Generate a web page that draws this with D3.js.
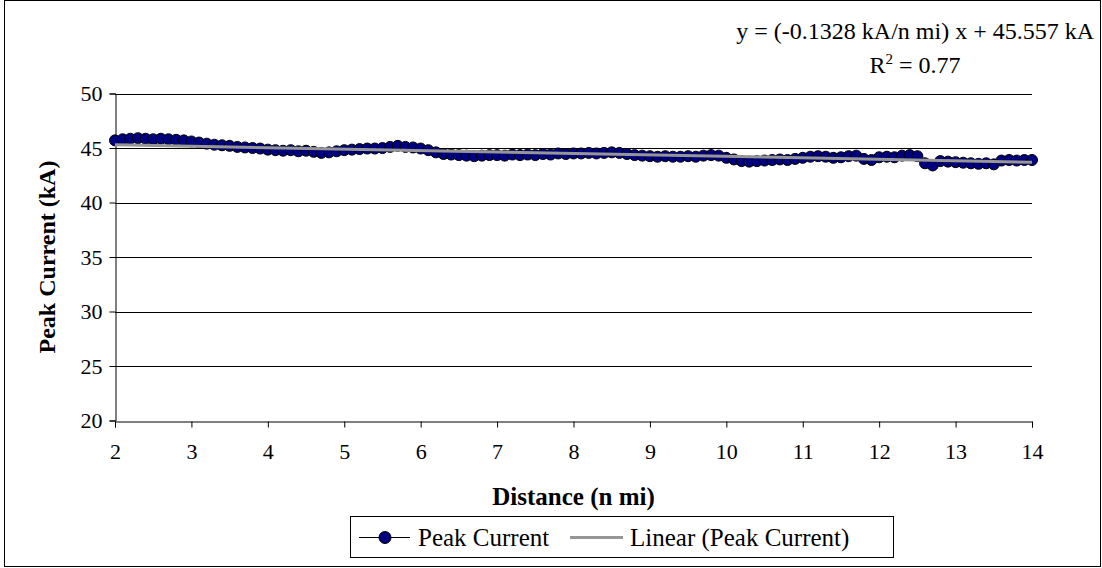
<!DOCTYPE html>
<html>
<head>
<meta charset="utf-8">
<script src="https://cdn.jsdelivr.net/npm/d3@7"></script>
<style>
  html, body { margin: 0; padding: 0; background: #fff; }
  svg { display: block; font-family: "Liberation Serif", "Times New Roman", serif; }
</style>
</head>
<body>
<svg id="chart" width="1102" height="568"></svg>
<script>
// Peak current readings, one every 0.1 n mi from 2 to 14 n mi
const distStart = 2.0;
const distStep = 0.1;
const peakCurrent = [
  45.70, 45.80, 45.85, 45.90, 45.85, 45.80, 45.85, 45.80, 45.75, 45.70,
  45.60, 45.50, 45.40, 45.30, 45.25, 45.20, 45.10, 45.05, 45.00, 44.95,
  44.85, 44.80, 44.75, 44.80, 44.70, 44.75, 44.65, 44.55, 44.60, 44.70,
  44.80, 44.85, 44.90, 44.95, 44.95, 45.00, 45.10, 45.20, 45.10, 45.05,
  44.95, 44.80, 44.60, 44.45, 44.40, 44.35, 44.30, 44.25, 44.30, 44.35,
  44.35, 44.30, 44.40, 44.35, 44.40, 44.35, 44.45, 44.40, 44.50, 44.45,
  44.50, 44.50, 44.55, 44.50, 44.55, 44.60, 44.55, 44.45, 44.35, 44.30,
  44.25, 44.20, 44.25, 44.20, 44.20, 44.25, 44.20, 44.30, 44.35, 44.30,
  44.10, 43.95, 43.80, 43.75, 43.80, 43.85, 43.90, 43.95, 43.90, 44.00,
  44.10, 44.20, 44.25, 44.20, 44.10, 44.15, 44.25, 44.30, 44.00, 43.90,
  44.15, 44.20, 44.15, 44.30, 44.35, 44.25, 43.60, 43.40, 43.80, 43.75,
  43.70, 43.65, 43.60, 43.55, 43.60, 43.50, 43.85, 43.90, 43.85, 43.90,
  43.90
];
const distance = peakCurrent.map((_, i) => +(distStart + i * distStep).toFixed(1));

// Linear fit, as given in the equation label
const fitSlope = -0.1328;
const fitIntercept = 45.557;
const fitR2 = 0.77;

const xTicks = [2, 3, 4, 5, 6, 7, 8, 9, 10, 11, 12, 13, 14];
const yTicks = [20, 25, 30, 35, 40, 45, 50];

const seriesName = "Peak Current";
const fitName = "Linear (Peak Current)";

const svg = d3.select("#chart");
const plot = { left: 115, right: 1032, top: 93.5, bottom: 420.5 };
const serif = '"Liberation Serif", "Times New Roman", serif';

// Outer chart frame
svg.append("rect")
  .attr("x", 4.5).attr("y", 0.5)
  .attr("width", 1096).attr("height", 566)
  .attr("fill", "#fff").attr("stroke", "#000").attr("stroke-width", 1);

const x = d3.scaleLinear().domain([2, 14]).range([plot.left, plot.right]);
const y = d3.scaleLinear().domain([20, 50]).range([plot.bottom, plot.top]);

// Horizontal gridlines
svg.append("g")
  .selectAll("line")
  .data(yTicks.filter(t => t > 20))
  .join("line")
  .attr("x1", plot.left).attr("x2", plot.right)
  .attr("y1", d => Math.round(y(d)) + 0.5).attr("y2", d => Math.round(y(d)) + 0.5)
  .attr("stroke", "#000").attr("stroke-width", 1);

// Axes
const yAxis = d3.axisLeft(y).tickValues(yTicks).tickSize(6).tickPadding(7).tickFormat(d3.format("d"));
const xAxis = d3.axisBottom(x).tickValues(xTicks).tickSize(6).tickPadding(16).tickFormat(d3.format("d"));

const gy = svg.append("g")
  .attr("transform", `translate(${Math.round(plot.left) + 0.5},0)`)
  .call(yAxis);
const gx = svg.append("g")
  .attr("transform", `translate(0,${Math.round(plot.bottom) + 0.5})`)
  .call(xAxis);

[gx, gy].forEach(g => {
  g.attr("font-family", serif).attr("font-size", 22);
  g.select(".domain").attr("stroke", "#000");
  g.selectAll(".tick line").attr("stroke", "#000");
  g.selectAll(".tick text").attr("fill", "#000");
});

// Series line and markers
const pts = distance.map((d, i) => ({ x: d, v: peakCurrent[i] }));
svg.append("path")
  .datum(pts)
  .attr("fill", "none")
  .attr("stroke", "#000")
  .attr("stroke-width", 1)
  .attr("d", d3.line().x(d => x(d.x)).y(d => y(d.v)));

svg.append("g")
  .selectAll("circle")
  .data(pts)
  .join("circle")
  .attr("cx", d => x(d.x))
  .attr("cy", d => y(d.v))
  .attr("r", 5.5)
  .attr("fill", "#000080")
  .attr("stroke", "#000")
  .attr("stroke-width", 1);

// Trend line
svg.append("line")
  .attr("x1", x(2)).attr("y1", y(fitIntercept + fitSlope * 2))
  .attr("x2", x(14)).attr("y2", y(fitIntercept + fitSlope * 14))
  .attr("stroke", "#969696")
  .attr("stroke-width", 3);

// Fit equation
const eq = svg.append("g").attr("fill", "#000")
  .attr("font-family", serif).attr("font-size", 24);
eq.append("text")
  .attr("x", 1094).attr("y", 39)
  .attr("text-anchor", "end")
  .text(`y = (${fitSlope} kA/n mi) x + ${fitIntercept} kA`);
const r2 = eq.append("text")
  .attr("x", 915).attr("y", 73)
  .attr("text-anchor", "middle");
r2.append("tspan").text("R");
r2.append("tspan").attr("dy", -9).attr("font-size", 15).text("2");
r2.append("tspan").attr("dy", 9).text(` = ${fitR2}`);

// Axis titles
svg.append("text")
  .attr("x", (plot.left + plot.right) / 2).attr("y", 505)
  .attr("text-anchor", "middle")
  .attr("font-family", serif).attr("font-size", 25).attr("font-weight", "bold")
  .text("Distance (n mi)");

svg.append("text")
  .attr("transform", `translate(55,${(plot.top + plot.bottom) / 2}) rotate(-90)`)
  .attr("text-anchor", "middle")
  .attr("font-family", serif).attr("font-size", 24).attr("font-weight", "bold")
  .text("Peak Current (kA)");

// Legend
const lg = svg.append("g").attr("font-family", serif).attr("font-size", 25);
lg.append("rect")
  .attr("x", 350.5).attr("y", 516.5).attr("width", 543).attr("height", 41)
  .attr("fill", "#fff").attr("stroke", "#000");
lg.append("line")
  .attr("x1", 359).attr("x2", 410).attr("y1", 537.5).attr("y2", 537.5)
  .attr("stroke", "#000");
lg.append("circle")
  .attr("cx", 385).attr("cy", 537.5).attr("r", 6)
  .attr("fill", "#000080").attr("stroke", "#000");
lg.append("text")
  .attr("x", 418).attr("y", 546)
  .text(seriesName);
lg.append("line")
  .attr("x1", 570).attr("x2", 623).attr("y1", 537.5).attr("y2", 537.5)
  .attr("stroke", "#969696").attr("stroke-width", 3);
lg.append("text")
  .attr("x", 630).attr("y", 546)
  .text(fitName);
</script>
</body>
</html>
